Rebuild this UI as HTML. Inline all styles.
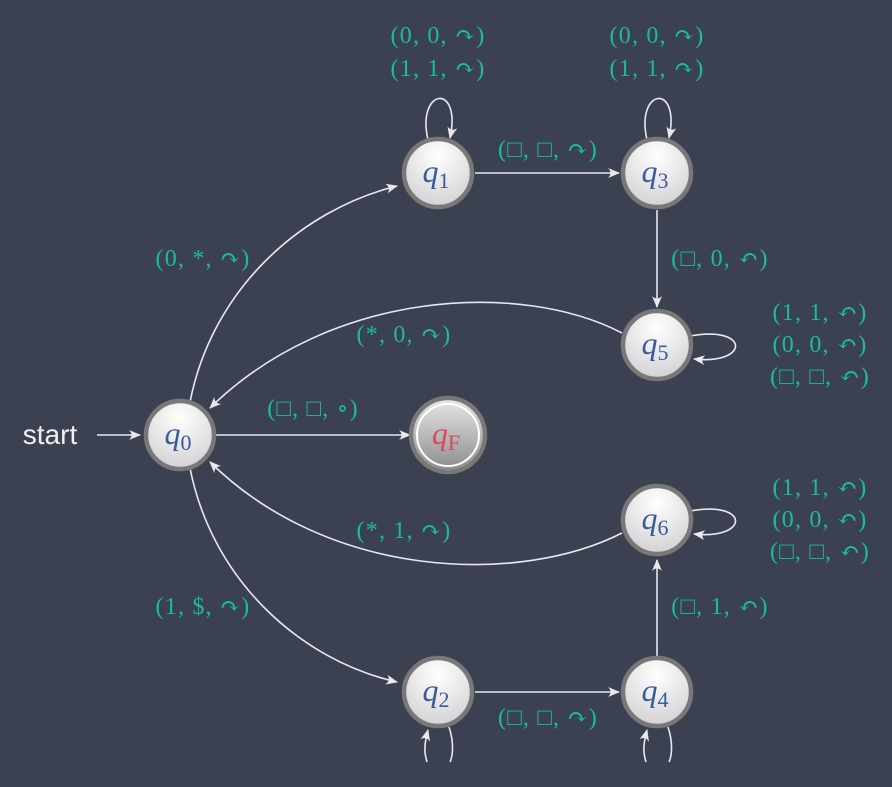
<!DOCTYPE html>
<html><head><meta charset="utf-8"><style>
html,body{margin:0;padding:0;background:#3b4150;}
svg{display:block}
.l{font-family:"Liberation Serif","DejaVu Serif",serif;font-size:24px;letter-spacing:1.2px;fill:#1bbc9b;text-anchor:middle}
.e{stroke:#e8e8ee;stroke-width:1.6;fill:none}
.n{font-family:"Liberation Serif","DejaVu Serif",serif;font-style:italic;font-size:32px;fill:#3a5a9a;text-anchor:middle}
.s{font-size:22px;font-style:normal}
</style></head><body>
<svg width="892" height="787" viewBox="0 0 892 787" xmlns="http://www.w3.org/2000/svg">
<defs>
<radialGradient id="g" cx="50%" cy="25%" r="80%"><stop offset="0" stop-color="#ffffff"/><stop offset="1" stop-color="#cfcfd2"/></radialGradient>
<linearGradient id="gf" x1="0" y1="0" x2="0" y2="1"><stop offset="0" stop-color="#e8e8e8"/><stop offset="1" stop-color="#8a8a8a"/></linearGradient>
<marker id="a" viewBox="0 0 12 10" refX="11" refY="5" markerWidth="12" markerHeight="10" markerUnits="userSpaceOnUse" orient="auto"><path d="M0,0 Q5,5 0,10 L12,5 Z" fill="#e8e8ee"/></marker>
</defs>
<path class="e" d="M97,435 L140,435" marker-end="url(#a)"/>
<path class="e" d="M214,435 L410,435" marker-end="url(#a)"/>
<path class="e" d="M475,173 L619,173" marker-end="url(#a)"/>
<path class="e" d="M657,210 L657,307" marker-end="url(#a)"/>
<path class="e" d="M475,692 L619,692" marker-end="url(#a)"/>
<path class="e" d="M657,657 L657,560" marker-end="url(#a)"/>
<path class="e" d="M190,402 C212,290 300,210 397,186" marker-end="url(#a)"/>
<path class="e" d="M190,468 C212,580 300,660 397,682" marker-end="url(#a)"/>
<path class="e" d="M622,333 C520,280 330,290 210,408" marker-end="url(#a)"/>
<path class="e" d="M622,533 C520,585 330,580 210,462" marker-end="url(#a)"/>
<path class="e" d="M428,140 C416,88 462,82 450,138" marker-end="url(#a)"/>
<path class="e" d="M647,140 C635,88 681,82 669,138" marker-end="url(#a)"/>
<path class="e" d="M690,336 C750,325 750,365 694,359" marker-end="url(#a)"/>
<path class="e" d="M690,511 C750,500 750,540 694,534" marker-end="url(#a)"/>
<path class="e" d="M449,727 C455,745 452,758 450,762"/>
<path class="e" d="M427,762 C424,752 424,745 428,730" marker-end="url(#a)"/>
<path class="e" d="M668,727 C674,745 671,758 669,762"/>
<path class="e" d="M646,762 C643,752 643,745 647,730" marker-end="url(#a)"/>
<g stroke="#787878" stroke-width="4.5" fill="url(#g)">
<circle cx="180" cy="435" r="34"/>
<circle cx="438" cy="173" r="34"/>
<circle cx="657" cy="173" r="34"/>
<circle cx="657" cy="345" r="34"/>
<circle cx="657" cy="520" r="34"/>
<circle cx="438" cy="692" r="34"/>
<circle cx="657" cy="692" r="34"/>
<circle cx="448" cy="435" r="37" fill="url(#gf)"/>
</g>
<circle cx="448" cy="435" r="31" fill="none" stroke="#ffffff" stroke-width="2"/>
<text class="n" x="178" y="444">q<tspan class="s" dy="6">0</tspan></text>
<text class="n" x="436" y="182">q<tspan class="s" dy="6">1</tspan></text>
<text class="n" x="655" y="182">q<tspan class="s" dy="6">3</tspan></text>
<text class="n" x="655" y="354">q<tspan class="s" dy="6">5</tspan></text>
<text class="n" x="655" y="529">q<tspan class="s" dy="6">6</tspan></text>
<text class="n" x="436" y="701">q<tspan class="s" dy="6">2</tspan></text>
<text class="n" x="655" y="701">q<tspan class="s" dy="6">4</tspan></text>
<text class="n" x="446" y="444" style="fill:#d94a5a">q<tspan class="s" dy="6">F</tspan></text>
<text x="50" y="444" style="font-family:'Liberation Sans',sans-serif;font-size:28px;fill:#f0f0f0;text-anchor:middle">start</text>
<text class="l" x="438" y="43">(0, 0, ↷)</text>
<text class="l" x="438" y="76">(1, 1, ↷)</text>
<text class="l" x="657" y="43">(0, 0, ↷)</text>
<text class="l" x="657" y="76">(1, 1, ↷)</text>
<text class="l" x="548" y="157">(□, □, ↷)</text>
<text class="l" x="720" y="266">(□, 0, ↶)</text>
<text class="l" x="203" y="266">(0, *, ↷)</text>
<text class="l" x="404" y="342">(*, 0, ↷)</text>
<text class="l" x="313" y="416">(□, □, ∘)</text>
<text class="l" x="820" y="320">(1, 1, ↶)</text>
<text class="l" x="820" y="352">(0, 0, ↶)</text>
<text class="l" x="820" y="384">(□, □, ↶)</text>
<text class="l" x="820" y="495">(1, 1, ↶)</text>
<text class="l" x="820" y="527">(0, 0, ↶)</text>
<text class="l" x="820" y="559">(□, □, ↶)</text>
<text class="l" x="404" y="538">(*, 1, ↷)</text>
<text class="l" x="203" y="614">(1, $, ↷)</text>
<text class="l" x="720" y="614">(□, 1, ↶)</text>
<text class="l" x="548" y="725">(□, □, ↷)</text>
</svg>
</body></html>
